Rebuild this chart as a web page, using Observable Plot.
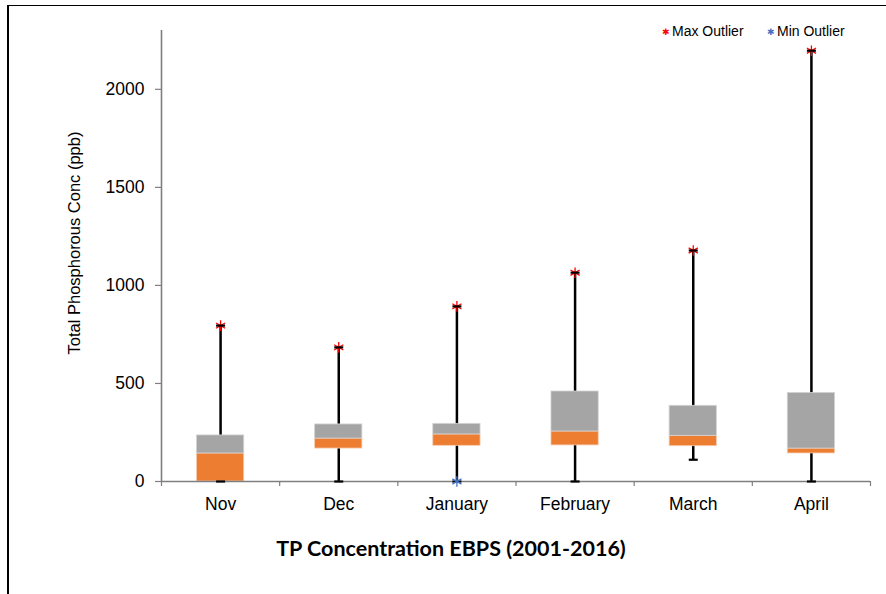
<!DOCTYPE html>
<html>
<head>
<meta charset="utf-8">
<script src="https://cdn.jsdelivr.net/npm/d3@7"></script>
<script src="https://cdn.jsdelivr.net/npm/@observablehq/plot@0.6"></script>
<style>
  body { margin: 0; background: #fff; font-family: "Liberation Sans", Arial, sans-serif; }
  #wrap { position: relative; width: 886px; height: 594px; overflow: hidden; background: #fff; }
  #wrap svg { position: absolute; left: 0; top: 0; }
  .frame { position: absolute; left: 7px; top: 5px; width: 890px; height: 600px; border-left: 2px solid #000; border-top: 1px solid #000; box-sizing: border-box; pointer-events: none; }
  .ylab { position: absolute; left: 74px; top: 243px; transform: translate(-50%, -50%) rotate(-90deg); white-space: nowrap; font-size: 16.5px; color: #000; }
  .title { position: absolute; left: 0; width: 902px; top: 535px; text-align: center; font-family: Lato, "Open Sans", sans-serif; font-weight: 700; font-size: 21.5px; color: #000; }
  .legend { position: absolute; top: 23px; font-size: 14px; color: #000; white-space: nowrap; }
  .legend span.s { font-size: 9px; margin-right: 2px; position: relative; top: -1px; }
</style>
</head>
<body>
<div id="wrap"></div>
<script>
const months = ["Nov", "Dec", "January", "February", "March", "April"];
const minVals = [0, 0, 0, 0, 111, 0];
const q1Vals = [0, 168, 182, 184, 180, 143];
const medianVals = [143, 219, 240, 255, 233, 168];
const q3Vals = [235, 291, 294, 459, 386, 452];
const maxVals = [795, 684, 893, 1065, 1178, 2197];
const maxOutliers = [795, 684, 893, 1065, 1178, 2197];
const minOutliers = [null, null, 0, null, null, null];
const yTicks = [0, 500, 1000, 1500, 2000];
const legendLabels = ["Max Outlier", "Min Outlier"];
const titleText = "TP Concentration EBPS (2001-2016)";
const yLabel = "Total Phosphorous Conc (ppb)";

const rows = months.map((m, i) => ({
  i, m,
  min: minVals[i], q1: q1Vals[i], med: medianVals[i], q3: q3Vals[i], max: maxVals[i],
  maxOut: maxOutliers[i], minOut: minOutliers[i]
}));

const half = 0.2;
const cx = d => d.i + 0.5;
const capSymbol = {
  draw(ctx, size) {
    const r = Math.sqrt(size / Math.PI);
    ctx.moveTo(-r, 0);
    ctx.lineTo(r, 0);
  }
};
const gray = "#7f7f7f";

const chart = Plot.plot({
  width: 886,
  height: 594,
  marginLeft: 161,
  marginRight: 16,
  marginTop: 30,
  marginBottom: 113,
  style: { fontFamily: "'Liberation Sans', Arial, sans-serif", fontSize: "17.5px", color: "#000", background: "transparent" },
  x: { domain: [0, 6] },
  y: { domain: [0, 2300] },
  marks: [
    Plot.ruleX(rows, { x: cx, y1: "min", y2: "max", stroke: "#000", strokeWidth: 2.5 }),
    Plot.rectY(rows, { x1: d => cx(d) - half, x2: d => cx(d) + half, y1: "q1", y2: "med", fill: "#ED7D31", stroke: "#f6cdb2", strokeWidth: 0.8 }),
    Plot.rectY(rows, { x1: d => cx(d) - half, x2: d => cx(d) + half, y1: "med", y2: "q3", fill: "#A5A5A5", stroke: "#d4d4d4", strokeWidth: 0.8 }),
    Plot.ruleY([0], { stroke: gray, strokeWidth: 1.6 }),
    Plot.ruleX([0], { stroke: gray, strokeWidth: 1.6 }),
    Plot.dot(rows.filter(d => d.maxOut != null), { x: cx, y: "maxOut", symbol: "asterisk", r: 5, stroke: "#ff0000", strokeWidth: 1.3 }),
    Plot.dot(rows, { x: cx, y: "max", symbol: capSymbol, r: 4.5, stroke: "#000", strokeWidth: 2.2 }),
    Plot.dot(rows, { x: cx, y: "min", symbol: capSymbol, r: 4.5, stroke: "#000", strokeWidth: 2.2 }),
    Plot.dot(rows.filter(d => d.minOut != null), { x: cx, y: "minOut", symbol: "asterisk", r: 5, stroke: "#4472C4", strokeWidth: 1.3 }),
    Plot.axisY({ ticks: yTicks, tickSize: 6, tickPadding: 11, tickFormat: d => String(d), stroke: gray, strokeWidth: 1.2, fill: "#000", label: null }),
    Plot.axisX({ ticks: d3.range(7), tickSize: 5, tickFormat: () => "", stroke: gray, strokeWidth: 1.2, label: null }),
    Plot.axisX({ ticks: months.map((_, i) => i + 0.5), tickSize: 0, tickPadding: 16, tickFormat: v => months[Math.floor(v)], fill: "#000", label: null })
  ]
});

const wrap = document.getElementById("wrap");
wrap.appendChild(chart);

const frame = document.createElement("div");
frame.className = "frame";
wrap.appendChild(frame);

const yl = document.createElement("div");
yl.className = "ylab";
yl.textContent = yLabel;
wrap.appendChild(yl);

const t = document.createElement("div");
t.className = "title";
t.textContent = titleText;
wrap.appendChild(t);

const legendColors = ["#ff0000", "#4472C4"];
const legendLefts = [662, 767];
legendLabels.forEach((lab, k) => {
  const d = document.createElement("div");
  d.className = "legend";
  d.style.left = legendLefts[k] + "px";
  const s = document.createElement("span");
  s.className = "s";
  s.style.color = legendColors[k];
  s.textContent = "✱";
  d.appendChild(s);
  d.appendChild(document.createTextNode(lab));
  wrap.appendChild(d);
});
</script>
</body>
</html>
